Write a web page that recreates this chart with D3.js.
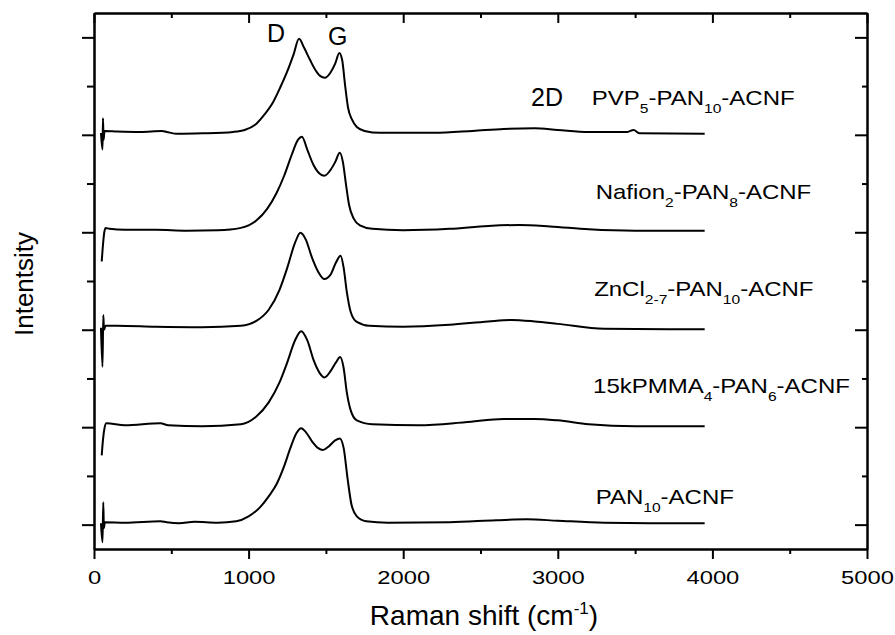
<!DOCTYPE html>
<html lang="en">
<head>
<meta charset="UTF-8">
<title>Raman spectra ACNF</title>
<script src="https://d3js.org/d3.v7.min.js"></script>
<style>
    body { margin: 0; background: #fff; }
    svg { font-family: "Liberation Sans", Arial, sans-serif; }
    .trace { fill: none; stroke: #000; stroke-width: 2px; stroke-linejoin: round; }
    .axis path, .axis line { stroke: #000; stroke-width: 2px; }
</style>
</head>
<body>
<svg width="895" height="635"></svg>
<script>
// spectra: [Raman shift (cm-1), intensity relative to own baseline]
const pvp = [[45,0.02],[55,-0.15],[58,0.17],[62,-0.05],[68,0.04],[150,0.035],[300,0.03],[440,0.04],[470,0.03],[540,0.01],[700,0.015],[900,0.03],[975,0.05],[1040,0.10],[1093,0.19],[1160,0.34],[1203,0.48],[1250,0.65],[1290,0.82],[1326,0.985],[1360,0.89],[1397,0.77],[1430,0.67],[1462,0.605],[1494,0.585],[1530,0.64],[1560,0.73],[1587,0.84],[1605,0.77],[1624,0.51],[1643,0.28],[1669,0.155],[1700,0.08],[1750,0.04],[1850,0.02],[2200,0.02],[2450,0.04],[2650,0.06],[2850,0.067],[3000,0.05],[3200,0.03],[3450,0.03],[3490,0.05],[3530,0.015],[3950,0.01]];
const nafion = [[50,-0.30],[58,-0.13],[66,-0.005],[75,0.045],[100,0.035],[200,0.025],[400,0.025],[600,0.015],[800,0.02],[950,0.045],[1050,0.12],[1120,0.24],[1180,0.40],[1230,0.58],[1280,0.80],[1320,0.95],[1345,0.98],[1380,0.845],[1420,0.69],[1460,0.60],[1490,0.58],[1530,0.64],[1560,0.72],[1590,0.815],[1610,0.72],[1630,0.49],[1650,0.28],[1680,0.14],[1720,0.07],[1800,0.035],[2000,0.02],[2300,0.035],[2550,0.065],[2750,0.075],[2950,0.06],[3200,0.03],[3500,0.015],[3950,0.015]];
const zncl = [[45,0.02],[55,-0.38],[60,0.15],[65,0.0],[75,0.04],[150,0.04],[400,0.03],[700,0.025],[950,0.04],[1050,0.09],[1130,0.205],[1200,0.41],[1250,0.635],[1300,0.89],[1335,0.995],[1370,0.925],[1410,0.74],[1450,0.595],[1490,0.52],[1530,0.565],[1565,0.69],[1595,0.76],[1615,0.635],[1635,0.39],[1660,0.185],[1700,0.08],[1780,0.04],[2000,0.03],[2300,0.05],[2550,0.085],[2700,0.10],[2850,0.085],[3000,0.06],[3300,0.01],[3950,0.005]];
const pmma = [[50,-0.29],[58,-0.13],[68,-0.01],[80,0.04],[200,0.02],[430,0.04],[480,0.02],[700,0.01],[950,0.03],[1050,0.11],[1130,0.255],[1200,0.46],[1250,0.665],[1300,0.89],[1340,0.985],[1380,0.89],[1420,0.69],[1460,0.555],[1490,0.51],[1530,0.575],[1565,0.665],[1592,0.72],[1615,0.605],[1635,0.36],[1660,0.175],[1700,0.07],[1800,0.03],[2100,0.02],[2400,0.05],[2650,0.085],[2850,0.085],[3000,0.07],[3200,0.03],[3500,0.01],[3950,0.01]];
const pan = [[45,0.015],[55,-0.18],[60,0.23],[64,-0.035],[70,0.025],[200,0.02],[430,0.035],[470,0.025],[550,0.015],[650,0.03],[800,0.02],[920,0.035],[1000,0.085],[1075,0.18],[1130,0.29],[1184,0.425],[1230,0.60],[1270,0.785],[1310,0.94],[1340,0.99],[1370,0.95],[1410,0.855],[1450,0.785],[1480,0.765],[1520,0.805],[1560,0.865],[1590,0.885],[1615,0.785],[1640,0.475],[1665,0.21],[1700,0.085],[1760,0.035],[1900,0.02],[2300,0.025],[2600,0.045],[2800,0.055],[3000,0.04],[3300,0.02],[3600,0.015],[3950,0.015]];

const spectra = [pvp, nafion, zncl, pmma, pan];
const offsets = [4, 3, 2, 1, 0];
// label pieces: [text, isSubscript]
const labels = [
    [["PVP",0],["5",1],["-PAN",0],["10",1],["-ACNF",0]],
    [["Nafion",0],["2",1],["-PAN",0],["8",1],["-ACNF",0]],
    [["ZnCl",0],["2-7",1],["-PAN",0],["10",1],["-ACNF",0]],
    [["15kPMMA",0],["4",1],["-PAN",0],["6",1],["-ACNF",0]],
    [["PAN",0],["10",1],["-ACNF",0]]
];
const bandNames = ["D", "G", "2D"];
const xMajor = [0, 1000, 2000, 3000, 4000, 5000];
const xMinor = [500, 1500, 2500, 3500, 4500];
const yMajor = [0, 1, 2, 3, 4, 5];
const yMinor = [0.5, 1.5, 2.5, 3.5, 4.5];

const svg = d3.select('svg');
const m = {l: 94, r: 867, t: 13, b: 549};
const x = d3.scaleLinear().domain([0, 5000]).range([m.l, m.r]);
const y = d3.scaleLinear().domain([-0.25, 5.25]).range([m.b, m.t]);

// traces
const line = d3.line().x(d => x(d[0])).y(d => y(d[1])).curve(d3.curveMonotoneX);
spectra.forEach(function (s, i) {
    svg.append('path').attr('class', 'trace')
        .attr('d', line(s.map(d => [d[0], d[1] + offsets[i]])));
});

// axes
function addAxis(axisFn, scale, vals, size, tr, labelled) {
    let a = axisFn(scale).tickValues(vals).tickSize(size).tickSizeOuter(0);
    if (!labelled) a.tickFormat('');
    else a.tickFormat(d3.format('d')).tickPadding(12);
    return svg.append('g').attr('class', 'axis').attr('transform', tr).call(a);
}
let bottom = addAxis(d3.axisBottom, x, xMajor, 10, 'translate(0,' + m.b + ')', true);
addAxis(d3.axisBottom, x, xMinor, 5, 'translate(0,' + m.b + ')', false);
addAxis(d3.axisTop, x, xMajor, -10, 'translate(0,' + m.t + ')', false);
addAxis(d3.axisTop, x, xMinor, -5, 'translate(0,' + m.t + ')', false);
addAxis(d3.axisLeft, y, yMajor, 12, 'translate(' + m.l + ',0)', false);
addAxis(d3.axisLeft, y, yMinor, 7, 'translate(' + m.l + ',0)', false);
addAxis(d3.axisRight, y, yMajor, -12, 'translate(' + m.r + ',0)', false);
addAxis(d3.axisRight, y, yMinor, -5, 'translate(' + m.r + ',0)', false);
bottom.selectAll('text')
    .attr('font-size', 19).attr('font-family', '"Liberation Sans", Arial, sans-serif')
    .attr('fill', '#000').attr('transform', 'scale(1.25,1)');

// axis titles
let xt = svg.append('text').attr('x', 484).attr('y', 625)
    .attr('text-anchor', 'middle').attr('font-size', 28);
xt.append('tspan').text('Raman shift (cm');
xt.append('tspan').text('-1').attr('font-size', 17).attr('dy', -11);
xt.append('tspan').text(')').attr('dy', 11);
svg.append('text').attr('transform', 'translate(33,284) rotate(-90)')
    .attr('text-anchor', 'middle').attr('font-size', 26).text('Intentsity');

// band labels
const bandPos = [[1119, 4.95], [1514, 4.92], [2827, 4.30]];
bandNames.forEach(function (b, i) {
    svg.append('text').attr('x', x(bandPos[i][0])).attr('y', y(bandPos[i][1]))
        .attr('font-size', 25).text(b);
});

// sample labels
const labX = [3220, 3245, 3235, 3228, 3245];
const labDy = [0.31, 0.34, 0.345, 0.35, 0.21];
labels.forEach(function (parts, i) {
    let t = svg.append('text')
        .attr('transform', 'translate(' + x(labX[i]) + ',' + y(offsets[i] + labDy[i]) + ') scale(1.2,1)')
        .attr('font-size', 20);
    let shift = 0;
    parts.forEach(function (p) {
        let dy = p[1] ? 8 - shift : -shift;
        shift = p[1] ? 8 : 0;
        t.append('tspan').text(p[0]).attr('dy', dy).attr('font-size', p[1] ? 13 : 20);
    });
});
</script>
</body>
</html>
